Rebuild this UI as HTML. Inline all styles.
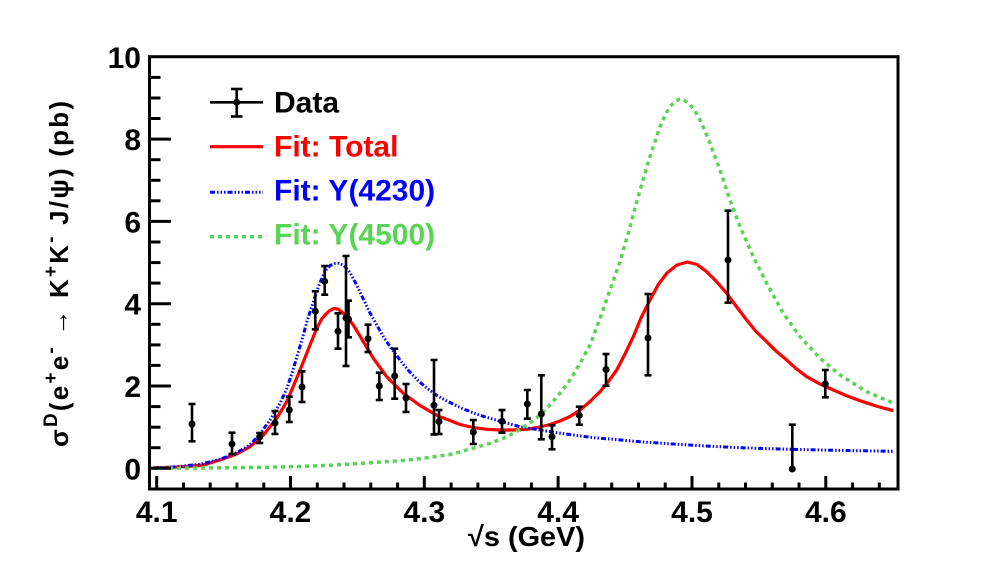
<!DOCTYPE html>
<html>
<head>
<meta charset="utf-8">
<style>
  html, body { margin:0; padding:0; background:#fff; }
  svg { display:block; }
  text { font-family: "Liberation Sans", "DejaVu Sans", sans-serif; font-weight: bold; }
</style>
</head>
<body>
<svg width="998" height="576" viewBox="0 0 998 576" xmlns="http://www.w3.org/2000/svg">
  <rect x="0" y="0" width="998" height="576" fill="#fff"/>

  <!-- Curves -->
  <polyline fill="none" stroke="#ff0000" stroke-width="3.2" stroke-linejoin="round" points="153,467.8 170,467.3 186,466.5 203.3,465 220,460 236.7,454 250,446.7 263.3,435.3 276.7,418.3 286.7,401.7 296.7,378.3 306.7,353.3 316.7,328.3 322,318.5 326.7,313.3 330,310.3 334,308.5 338,309 343.3,313.3 348,318.5 353.3,325 363.3,341.7 373.3,358.3 386.7,376.7 403.3,393.3 420,405.5 438,416 450,420.5 460,424.5 473,427.5 486.7,429.3 500,430 513.3,430 527,429.3 540,427 550,424.5 560,421 570,416.5 580,410 590,401.5 600,391.7 608,382 616.7,370 625,354 633.3,336.7 641,318 650,300 658,285 666.7,273.3 677,265 687.3,262 697,264.5 706.7,271.7 716,281 726.7,293.3 736,306 746.7,320 756,331.5 766.7,341.7 776,351 786.7,360 796,368.5 806.7,376.7 820,384 833.3,390 846,395.5 860,400.7 876,406 893.3,410.7"/>

  <polyline fill="none" stroke="#0000ff" stroke-width="3" stroke-dasharray="5 2 1.5 2 1.5 2 1.5 2" points="153,467.8 170,467.3 200,464.3 220,459.3 236.7,452.7 250,445 260,434 270,420 280,403.5 287,388 293,370 298,353 303,336 308,318 313.3,302 318.3,287 325,271 330,265.5 335,263.5 339,263.3 344,265.5 350,272.5 356.7,285 363.3,299 370,313 376.7,325 383.3,336.5 391.7,349 400,360 408,370 418,380.5 426.7,388 436,395 446,400.5 461.7,408.3 480,415.3 500,421.3 520,426.7 540,430 556.7,432.7 573.3,435 593.3,437.7 613.3,439.3 640,441.8 673.3,444 706,446 740,447.7 775,448.9 806.7,449.7 850,450.6 893.3,451.3"/>

  <polyline fill="none" stroke="#59d454" stroke-width="3.5" stroke-dasharray="4 4" points="153,468.2 200,468 233.3,467.7 270,467.2 300,466.5 335,465 366.7,463 403.3,460.5 423.3,458.3 450,454.5 476.7,447.3 490,443.3 503.3,438.3 512,434 520,429.3 531.7,421.7 540,415 546.7,408.3 553,401.5 560,393.3 570,380 580,363.3 590,345 600,318.3 610,290 620,261.7 630,226.7 640,190 650,156.7 660,126.7 665,115.5 670,106.5 675,101.5 679.3,99.3 684,100 690,104.5 695,111 700,120 705,131 710,143.3 720,170 730,200 740,226.7 753.3,256.7 766.7,283.3 783.3,313.3 800,336.7 820,358.3 840,375 866.7,391.7 880,397.5 893.3,403"/>

  <!-- Data points -->
  <g stroke="#000" stroke-width="2.6" fill="#000">
    <line x1="192" y1="404" x2="192" y2="441.3"/><line x1="188.5" y1="404" x2="195.5" y2="404"/><line x1="188.5" y1="441.3" x2="195.5" y2="441.3"/><circle cx="192" cy="424" r="3.5" stroke="none"/>
    <line x1="232" y1="432.7" x2="232" y2="454"/><line x1="228.5" y1="432.7" x2="235.5" y2="432.7"/><line x1="228.5" y1="454" x2="235.5" y2="454"/><circle cx="232" cy="444" r="3.5" stroke="none"/>
    <line x1="259.7" y1="433" x2="259.7" y2="443"/><line x1="256.2" y1="433" x2="263.2" y2="433"/><line x1="256.2" y1="443" x2="263.2" y2="443"/><circle cx="259.7" cy="437" r="3.5" stroke="none"/>
    <line x1="275" y1="411" x2="275" y2="434"/><line x1="271.5" y1="411" x2="278.5" y2="411"/><line x1="271.5" y1="434" x2="278.5" y2="434"/><circle cx="275" cy="423" r="3.5" stroke="none"/>
    <line x1="289.3" y1="396.7" x2="289.3" y2="422"/><line x1="285.8" y1="396.7" x2="292.8" y2="396.7"/><line x1="285.8" y1="422" x2="292.8" y2="422"/><circle cx="289.3" cy="410" r="3.5" stroke="none"/>
    <line x1="302" y1="371.3" x2="302" y2="402"/><line x1="298.5" y1="371.3" x2="305.5" y2="371.3"/><line x1="298.5" y1="402" x2="305.5" y2="402"/><circle cx="302" cy="387" r="3.5" stroke="none"/>
    <line x1="315.3" y1="291.3" x2="315.3" y2="329.3"/><line x1="311.8" y1="291.3" x2="318.8" y2="291.3"/><line x1="311.8" y1="329.3" x2="318.8" y2="329.3"/><circle cx="315.3" cy="311.3" r="3.5" stroke="none"/>
    <line x1="324.7" y1="266" x2="324.7" y2="294.7"/><line x1="321.2" y1="266" x2="328.2" y2="266"/><line x1="321.2" y1="294.7" x2="328.2" y2="294.7"/><circle cx="324.7" cy="281.3" r="3.5" stroke="none"/>
    <line x1="338" y1="313.3" x2="338" y2="348.7"/><line x1="334.5" y1="313.3" x2="341.5" y2="313.3"/><line x1="334.5" y1="348.7" x2="341.5" y2="348.7"/><circle cx="338" cy="331.3" r="3.5" stroke="none"/>
    <line x1="346" y1="256" x2="346" y2="366"/><line x1="342.5" y1="256" x2="349.5" y2="256"/><line x1="342.5" y1="366" x2="349.5" y2="366"/><circle cx="346" cy="318" r="3.5" stroke="none"/>
    <line x1="348.5" y1="300.7" x2="348.5" y2="337.3"/><line x1="345" y1="300.7" x2="352" y2="300.7"/><line x1="345" y1="337.3" x2="352" y2="337.3"/><circle cx="348.5" cy="319" r="3.5" stroke="none"/>
    <line x1="368" y1="324.7" x2="368" y2="352"/><line x1="364.5" y1="324.7" x2="371.5" y2="324.7"/><line x1="364.5" y1="352" x2="371.5" y2="352"/><circle cx="368" cy="338.7" r="3.5" stroke="none"/>
    <line x1="379.3" y1="372.7" x2="379.3" y2="400"/><line x1="375.8" y1="372.7" x2="382.8" y2="372.7"/><line x1="375.8" y1="400" x2="382.8" y2="400"/><circle cx="379.3" cy="386" r="3.5" stroke="none"/>
    <line x1="394.7" y1="348.7" x2="394.7" y2="398.7"/><line x1="391.2" y1="348.7" x2="398.2" y2="348.7"/><line x1="391.2" y1="398.7" x2="398.2" y2="398.7"/><circle cx="394.7" cy="376" r="3.5" stroke="none"/>
    <line x1="406" y1="384" x2="406" y2="412"/><line x1="402.5" y1="384" x2="409.5" y2="384"/><line x1="402.5" y1="412" x2="409.5" y2="412"/><circle cx="406" cy="398" r="3.5" stroke="none"/>
    <line x1="434" y1="360" x2="434" y2="434.5"/><line x1="430.5" y1="360" x2="437.5" y2="360"/><line x1="430.5" y1="434.5" x2="437.5" y2="434.5"/><circle cx="434" cy="405.3" r="3.5" stroke="none"/>
    <line x1="439" y1="410" x2="439" y2="434"/><line x1="435.5" y1="410" x2="442.5" y2="410"/><line x1="435.5" y1="434" x2="442.5" y2="434"/><circle cx="439" cy="421.5" r="3.5" stroke="none"/>
    <line x1="473.3" y1="420" x2="473.3" y2="444"/><line x1="469.8" y1="420" x2="476.8" y2="420"/><line x1="469.8" y1="444" x2="476.8" y2="444"/><circle cx="473.3" cy="432" r="3.5" stroke="none"/>
    <line x1="502" y1="410" x2="502" y2="432.7"/><line x1="498.5" y1="410" x2="505.5" y2="410"/><line x1="498.5" y1="432.7" x2="505.5" y2="432.7"/><circle cx="502" cy="421.3" r="3.5" stroke="none"/>
    <line x1="527.3" y1="390" x2="527.3" y2="418.7"/><line x1="523.8" y1="390" x2="530.8" y2="390"/><line x1="523.8" y1="418.7" x2="530.8" y2="418.7"/><circle cx="527.3" cy="404" r="3.5" stroke="none"/>
    <line x1="541.3" y1="375.3" x2="541.3" y2="439.3"/><line x1="537.8" y1="375.3" x2="544.8" y2="375.3"/><line x1="537.8" y1="439.3" x2="544.8" y2="439.3"/><circle cx="541.3" cy="414" r="3.5" stroke="none"/>
    <line x1="552" y1="425.3" x2="552" y2="449.3"/><line x1="548.5" y1="425.3" x2="555.5" y2="425.3"/><line x1="548.5" y1="449.3" x2="555.5" y2="449.3"/><circle cx="552" cy="436.7" r="3.5" stroke="none"/>
    <line x1="579.3" y1="406.7" x2="579.3" y2="424.7"/><line x1="575.8" y1="406.7" x2="582.8" y2="406.7"/><line x1="575.8" y1="424.7" x2="582.8" y2="424.7"/><circle cx="579.3" cy="415.3" r="3.5" stroke="none"/>
    <line x1="606" y1="354" x2="606" y2="385.7"/><line x1="602.5" y1="354" x2="609.5" y2="354"/><line x1="602.5" y1="385.7" x2="609.5" y2="385.7"/><circle cx="606" cy="369.5" r="3.5" stroke="none"/>
    <line x1="648" y1="294" x2="648" y2="375.3"/><line x1="644.5" y1="294" x2="651.5" y2="294"/><line x1="644.5" y1="375.3" x2="651.5" y2="375.3"/><circle cx="648" cy="338" r="3.5" stroke="none"/>
    <line x1="728" y1="210.7" x2="728" y2="302.7"/><line x1="724.5" y1="210.7" x2="731.5" y2="210.7"/><line x1="724.5" y1="302.7" x2="731.5" y2="302.7"/><circle cx="728" cy="260" r="3.5" stroke="none"/>
    <line x1="792.3" y1="424.7" x2="792.3" y2="469"/><line x1="788.8" y1="424.7" x2="795.8" y2="424.7"/><circle cx="792.3" cy="469" r="3.5" stroke="none"/>
    <line x1="825.3" y1="370" x2="825.3" y2="397.3"/><line x1="821.8" y1="370" x2="828.8" y2="370"/><line x1="821.8" y1="397.3" x2="828.8" y2="397.3"/><circle cx="825.3" cy="384" r="3.5" stroke="none"/>
  </g>

  <!-- Frame -->
  <rect x="149.5" y="56.7" width="748.5" height="432.3" fill="none" stroke="#000" stroke-width="3"/>

  <!-- Y ticks -->
  <g stroke="#000" stroke-width="3">
    <line x1="149.5" y1="468.3" x2="171" y2="468.3"/>
    <line x1="149.5" y1="386" x2="171" y2="386"/>
    <line x1="149.5" y1="303.7" x2="171" y2="303.7"/>
    <line x1="149.5" y1="221.4" x2="171" y2="221.4"/>
    <line x1="149.5" y1="139.1" x2="171" y2="139.1"/>
    <line x1="149.5" y1="447.7" x2="160.5" y2="447.7"/>
    <line x1="149.5" y1="427.2" x2="160.5" y2="427.2"/>
    <line x1="149.5" y1="406.6" x2="160.5" y2="406.6"/>
    <line x1="149.5" y1="365.4" x2="160.5" y2="365.4"/>
    <line x1="149.5" y1="344.9" x2="160.5" y2="344.9"/>
    <line x1="149.5" y1="324.3" x2="160.5" y2="324.3"/>
    <line x1="149.5" y1="283.1" x2="160.5" y2="283.1"/>
    <line x1="149.5" y1="262.6" x2="160.5" y2="262.6"/>
    <line x1="149.5" y1="242" x2="160.5" y2="242"/>
    <line x1="149.5" y1="200.8" x2="160.5" y2="200.8"/>
    <line x1="149.5" y1="180.3" x2="160.5" y2="180.3"/>
    <line x1="149.5" y1="159.7" x2="160.5" y2="159.7"/>
    <line x1="149.5" y1="118.5" x2="160.5" y2="118.5"/>
    <line x1="149.5" y1="98" x2="160.5" y2="98"/>
    <line x1="149.5" y1="77.4" x2="160.5" y2="77.4"/>
  </g>

  <!-- X ticks -->
  <g stroke="#000" stroke-width="3">
    <line x1="156.7" y1="489" x2="156.7" y2="476"/>
    <line x1="290.5" y1="489" x2="290.5" y2="476"/>
    <line x1="424.3" y1="489" x2="424.3" y2="476"/>
    <line x1="558.1" y1="489" x2="558.1" y2="476"/>
    <line x1="692" y1="489" x2="692" y2="476"/>
    <line x1="825.8" y1="489" x2="825.8" y2="476"/>
    <line x1="183.5" y1="489" x2="183.5" y2="482.5"/>
    <line x1="210.2" y1="489" x2="210.2" y2="482.5"/>
    <line x1="237" y1="489" x2="237" y2="482.5"/>
    <line x1="263.8" y1="489" x2="263.8" y2="482.5"/>
    <line x1="317.3" y1="489" x2="317.3" y2="482.5"/>
    <line x1="344" y1="489" x2="344" y2="482.5"/>
    <line x1="370.8" y1="489" x2="370.8" y2="482.5"/>
    <line x1="397.6" y1="489" x2="397.6" y2="482.5"/>
    <line x1="451.1" y1="489" x2="451.1" y2="482.5"/>
    <line x1="477.9" y1="489" x2="477.9" y2="482.5"/>
    <line x1="504.6" y1="489" x2="504.6" y2="482.5"/>
    <line x1="531.4" y1="489" x2="531.4" y2="482.5"/>
    <line x1="584.9" y1="489" x2="584.9" y2="482.5"/>
    <line x1="611.7" y1="489" x2="611.7" y2="482.5"/>
    <line x1="638.5" y1="489" x2="638.5" y2="482.5"/>
    <line x1="665.2" y1="489" x2="665.2" y2="482.5"/>
    <line x1="718.8" y1="489" x2="718.8" y2="482.5"/>
    <line x1="745.5" y1="489" x2="745.5" y2="482.5"/>
    <line x1="772.3" y1="489" x2="772.3" y2="482.5"/>
    <line x1="799" y1="489" x2="799" y2="482.5"/>
    <line x1="852.6" y1="489" x2="852.6" y2="482.5"/>
    <line x1="879.3" y1="489" x2="879.3" y2="482.5"/>
  </g>

  <!-- Y tick labels -->
  <g font-size="30" text-anchor="end" fill="#000">
    <text x="141" y="479.3">0</text>
    <text x="141" y="397">2</text>
    <text x="141" y="314.7">4</text>
    <text x="141" y="232.4">6</text>
    <text x="141" y="150.1">8</text>
    <text x="141" y="67.8">10</text>
  </g>

  <!-- X tick labels -->
  <g font-size="30" text-anchor="middle" fill="#000">
    <text x="156.7" y="522">4.1</text>
    <text x="290.5" y="522">4.2</text>
    <text x="424.3" y="522">4.3</text>
    <text x="558.1" y="522">4.4</text>
    <text x="692" y="522">4.5</text>
    <text x="825.8" y="522">4.6</text>
  </g>

  <!-- X title -->
  <text x="468" y="546" font-size="28" fill="#000" textLength="117" lengthAdjust="spacingAndGlyphs">√s (GeV)</text>

  <!-- Y title -->
  <text transform="translate(68,447) rotate(-90)" x="0" y="0" font-size="26" fill="#000" textLength="346" lengthAdjust="spacing">σ<tspan font-size="19" dy="-11">D</tspan><tspan dy="11">(e</tspan><tspan font-size="19" dy="-11">+</tspan><tspan dy="11">e</tspan><tspan font-size="19" dy="-11">-</tspan><tspan dy="11"> → K</tspan><tspan font-size="19" dy="-11">+</tspan><tspan dy="11">K</tspan><tspan font-size="19" dy="-11">-</tspan><tspan dy="11"> J/ψ) (pb)</tspan></text>

  <!-- Legend -->
  <g>
    <line x1="210" y1="102.3" x2="263" y2="102.3" stroke="#000" stroke-width="2.6"/>
    <line x1="236.7" y1="89" x2="236.7" y2="116.5" stroke="#000" stroke-width="2.6"/>
    <line x1="231" y1="89" x2="242.5" y2="89" stroke="#000" stroke-width="2.6"/>
    <line x1="231" y1="116.5" x2="242.5" y2="116.5" stroke="#000" stroke-width="2.6"/>
    <circle cx="236.7" cy="102.3" r="3.5" fill="#000"/>
    <text x="274" y="112.7" font-size="30" fill="#000">Data</text>

    <line x1="210" y1="146.7" x2="263" y2="146.7" stroke="#ff0000" stroke-width="3.2"/>
    <text x="274" y="156.7" font-size="30" fill="#ff0000">Fit: Total</text>

    <line x1="210" y1="192.3" x2="263" y2="192.3" stroke="#0000ff" stroke-width="3" stroke-dasharray="5 2 1.5 2 1.5 2 1.5 2"/>
    <text x="274" y="200.7" font-size="30" fill="#0000ff">Fit: Y(4230)</text>

    <line x1="210" y1="236.7" x2="263" y2="236.7" stroke="#59d454" stroke-width="3.5" stroke-dasharray="4 4"/>
    <text x="274" y="244.7" font-size="30" fill="#59d454">Fit: Y(4500)</text>
  </g>
</svg>
</body>
</html>
